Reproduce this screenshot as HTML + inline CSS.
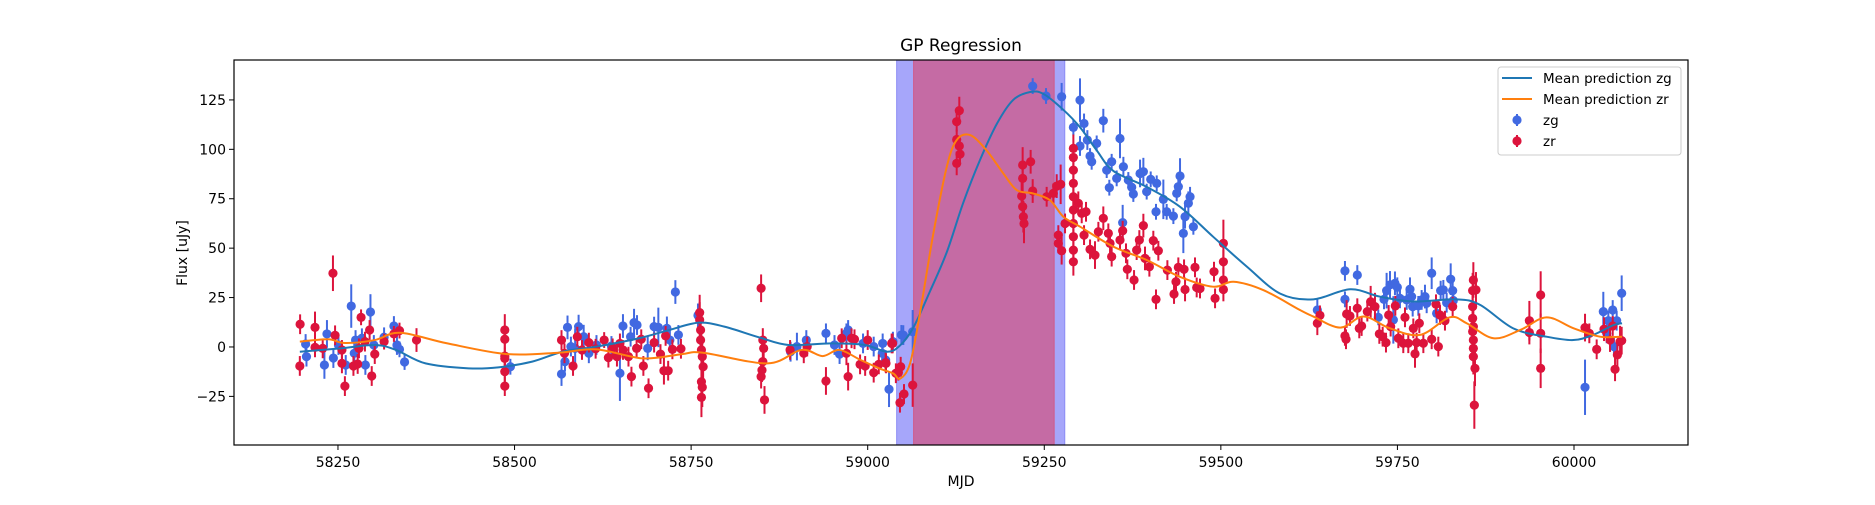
<!DOCTYPE html>
<html><head><meta charset="utf-8"><style>
body{margin:0;background:#fff;}
svg text{font-family:"DejaVu Sans","Liberation Sans",sans-serif;fill:#000;}
</style></head><body>
<svg id="chart" width="1875" height="500" viewBox="0 0 1875 500" xmlns="http://www.w3.org/2000/svg">
<rect x="0" y="0" width="1875" height="500" fill="#fff"/>
<g id="spans"></g><g id="points"></g><g id="curves"></g><g id="axes"></g><g id="legend"></g>
</svg>
<script>
const zgCurveMjd=[58196,58254,58302,58332,58374,58435,58477,58525,58568,58616,58676,58719,58761,58797,58846,58888,58948,58996,59027,59045,59064,59088,59112,59135,59159,59183,59206,59230,59249,59277,59301,59324,59348,59395,59442,59489,59537,59584,59631,59683,59725,59772,59834,59867,59914,59961,59999,60027,60056,60068];
const zgCurveFlux=[-2.4,-0.7,1,-1.5,-8.3,-10.8,-10.3,-7.4,-2.4,0.2,4.4,8.6,12.3,10.3,4.9,1,1.8,1,-2.4,0.5,9.4,28,48,72.7,94.6,113,125,129,128,120,111,99.6,89,81,71,55.8,40.6,27,24.1,29.2,25.5,23,24.1,21.3,9.4,5.2,3.5,6.1,11.1,12];
const zrCurveMjd=[58196,58236,58260,58302,58338,58405,58489,58562,58616,58682,58737,58767,58858,58906,58936,58960,58990,59017,59036,59046,59060,59074,59093,59112,59126,59145,59168,59192,59211,59234,59258,59277,59301,59348,59395,59442,59489,59518,59560,59612,59631,59669,59702,59739,59782,59824,59848,59886,59924,59961,59999,60037,60068];
const zrCurveFlux=[2.7,3.9,2,3.5,7.2,1.8,-3.6,-2.9,-1.2,-5.8,-3.6,-2.9,-8.3,-1.5,-4.6,-1.5,-6.6,-10.9,-13.4,-16,-8.3,17,57.5,91.2,104.7,107.2,99.6,87.8,79.4,77.7,74.3,65.9,60.8,50.7,44,35.5,30.5,33,28.8,18.7,15.4,9.8,15.4,9.5,6.1,15,12,4.4,8.6,15,9.5,5.2,5.2];
const zgPoints=[[58204.2,1.5,5],[58205.4,-4.9,5],[58230.8,-9.1,7],[58234.4,6.6,7],[58243.5,-5.6,5],[58250.7,1,5],[58261,-9.1,5],[58268.8,20.7,11],[58273.1,-3.2,6],[58274.9,3.5,5],[58283.9,4.4,5],[58288.8,-9.1,5],[58296,17.7,9],[58300.8,1,5],[58315.3,4.9,5],[58329.2,10.6,5],[58333.5,1,5],[58337.1,-1.2,4],[58344.3,-7.6,4],[58494.1,-10,4],[58566.5,-13.7,6],[58571.4,-7.4,5],[58575,9.9,6],[58579.8,0.2,5],[58585.8,-0.7,10],[58590.7,10.3,6],[58597.9,5.2,6],[58605.2,-3.2,5],[58616,1,5],[58637.2,0.5,5],[58649.2,-13.3,14],[58653.5,10.6,6],[58664.3,5.2,5],[58669.2,12.3,7],[58673.4,11.1,5],[58688.5,-0.7,6],[58697.6,10.3,5],[58703.6,9.9,10],[58715.7,9.4,6],[58719.9,3.5,5],[58727.7,27.8,6],[58732,6.1,5],[58759.7,16,6],[58890.8,-2.4,5],[58899.8,0.2,7],[58913.1,3.5,5],[58940.9,6.9,5],[58953,1,5],[58960.2,-3.6,5],[58969.9,6.9,5],[58972.3,8.6,5],[58993.4,1.8,5],[59008.5,0.2,5],[59020.6,-3.2,5],[59025.4,-6.6,5],[59030.2,-21.4,9],[59035.7,2.7,5],[59047.7,6.1,5],[59021.2,1.8,5],[59050.4,6,5],[59063.7,7.7,11],[59233.6,132,4],[59252.5,127,4],[59274.6,126.6,7],[59300.6,124.9,11],[59291.2,111.1,4],[59306.3,113.1,5],[59311,104.7,5],[59300.6,101.7,5],[59324.2,103,4],[59333.6,114.5,6],[59357.2,105.5,10],[59314.8,96.6,4],[59317.1,93.7,4],[59338.4,89.5,4],[59342.1,80.6,4],[59345.4,93.7,4],[59352.5,85.3,4],[59362,91.2,5],[59369,84.5,4],[59373.8,80.8,4],[59376.1,77.4,4],[59385.6,87.8,7],[59390.3,88.7,7],[59395,78.6,4],[59400.7,84.8,4],[59409.2,82.8,4],[59408.2,68.4,4],[59418.6,74.7,10],[59423.3,68.4,4],[59432.8,66.2,4],[59437.5,77.7,4],[59442.2,86.5,9],[59439.8,81.1,4],[59446.9,57.5,10],[59449.3,65.9,6],[59454,72.7,6],[59456.4,76,5],[59461.1,60.8,4],[59361,62.9,9],[59636.6,18.7,6],[59675.7,38.5,5],[59675.7,24.1,4],[59693.2,36.4,5],[59722.9,15,4],[59731,24.1,5],[59734.7,28.5,9],[59739.5,31.4,7],[59746.5,32.2,6],[59749.8,30.2,5],[59753.6,24.6,5],[59763.1,23.8,5],[59767.8,29.2,6],[59770.1,25.5,5],[59771.6,20.4,5],[59779.6,20.8,5],[59784.3,23.8,5],[59789,25.5,6],[59791.4,22.1,5],[59798.5,37.3,8],[59805.5,17,5],[59811.2,28.5,5],[59815,28.9,5],[59819.7,22.4,5],[59825.4,34.3,8],[59828.2,28.5,5],[59829.1,23.5,5],[59744.2,13.7,12],[60015.6,-20.4,14],[60041.5,17.9,10],[60054.8,18.7,5],[60048.6,13.3,5],[60060.4,13.3,5],[60067.5,27.2,9],[60056.6,0.2,5],[60046.3,6.9,5]];
const zrPoints=[[58196.4,11.5,5],[58196,-9.6,5],[58217.5,9.9,8],[58217.5,-0.2,5],[58228.4,-0.7,5],[58242.9,37.3,9],[58245.9,5.9,5],[58255.6,-1.5,5],[58255.6,-8.3,5],[58259.8,-19.8,5],[58271.9,-9.6,5],[58277.9,-8.6,5],[58279.7,-0.7,5],[58282.7,15,4],[58288.2,2.7,5],[58294.8,8.6,5],[58297.8,-14.7,5],[58302.1,-3.6,5],[58315.3,2.7,4],[58329.2,6.6,4],[58337.1,8.3,4],[58361.2,3.5,6],[58486.2,8.6,8],[58486.2,3.9,5],[58486.2,-4.6,5],[58486.2,-5.8,5],[58486.2,-12.5,5],[58486.2,-19.8,5],[58566.5,3.5,5],[58570.7,-3.2,5],[58582.8,-9.6,5],[58588.9,5.2,5],[58595.5,-1.5,5],[58605.2,2.2,5],[58614.8,-0.9,5],[58626.9,3.5,4],[58632.9,-5.4,5],[58638.9,-0.7,5],[58645,-4.9,5],[58649.2,1.8,5],[58653.5,-1.5,5],[58661.3,-4.9,5],[58665.5,-15,5],[58672.8,-0.7,5],[58679.4,3.9,5],[58682.4,-9.6,5],[58689.7,-20.9,5],[58697.6,2.2,5],[58706.6,-3.6,5],[58711.5,-12,7],[58713.9,5.6,5],[58717.5,-12,5],[58723.5,-1.2,5],[58735.6,-0.9,5],[58762.1,17.4,9],[58762.1,13.7,9],[58763.4,8.6,10],[58763.4,3.5,9],[58764.6,-1.5,8],[58765.8,-4.9,9],[58767,-10,10],[58764.6,-17.6,9],[58765.8,-20.4,10],[58764.6,-25.5,10],[58849.1,29.7,7],[58851.5,3.5,6],[58852.7,-0.7,6],[58851.5,-7.4,6],[58850.3,-11.7,6],[58849.1,-15,6],[58853.9,-26.8,7],[58890.1,-1.5,5],[58909.5,-3.2,5],[58914.3,0.2,5],[58940.9,-17.2,7],[58963.2,4.4,5],[58969.9,-3.2,6],[58972.3,-15,7],[58977.1,4.4,5],[58981.3,3.9,5],[58989.2,-8.8,5],[58996.4,-9.6,5],[59000,3.5,5],[59008.5,-13,5],[59015.7,-8.8,5],[59025.4,-7.9,5],[59033.9,1.8,5],[59039.9,-13.3,5],[59025.9,-8.3,5],[59035.3,1.8,5],[59043.4,-13,4],[59046.7,-10,5],[59045.7,-28.2,5],[59051.4,-23.8,5],[59063.7,-19.3,11],[59126,114,5],[59129.7,119.6,7],[59126,105,5],[59129.7,101.7,5],[59130.7,97.6,5],[59126,92.9,6],[59219.4,92.1,9],[59219.4,85.3,7],[59218,76.4,7],[59219.4,71,7],[59220.4,65.9,8],[59221.3,62.5,10],[59230.7,93.7,6],[59233.6,78.9,6],[59253.4,76,5],[59262.8,77.7,5],[59267.6,81.4,6],[59273.2,82.3,10],[59269.9,56.6,5],[59269.9,52.4,5],[59274.6,48.7,7],[59279.4,62.5,5],[59291.2,100.5,7],[59291.2,95.9,7],[59291.2,89.5,7],[59291.2,82.8,7],[59291.2,76,7],[59291.2,69.3,7],[59291.2,62.5,7],[59291.2,55.8,7],[59291.2,49,7],[59291.2,43.1,7],[59298.2,72.7,6],[59303,67.6,5],[59309.1,68.4,5],[59306.3,56.6,5],[59314.8,49.4,5],[59321.8,46.5,7],[59326.6,58.3,5],[59333.6,65.1,6],[59340.7,57.5,5],[59343.1,52.4,5],[59345.4,45.7,5],[59357.2,54.1,5],[59361,58.8,5],[59365.7,47.4,5],[59367.6,39.3,5],[59377.1,33.9,5],[59380.8,49,5],[59384.6,54.1,5],[59390.3,61.4,6],[59392.6,44.8,6],[59398.8,40.6,5],[59404.4,53.8,5],[59408.2,24.1,5],[59411.5,48.7,5],[59424.3,38.9,5],[59433.7,26.8,5],[59436.5,33,5],[59439.8,40.3,5],[59447.9,39.3,5],[59449.3,29.1,6],[59463.4,40.3,5],[59465.8,30.1,5],[59470.5,29.6,5],[59490.3,38.1,5],[59491.8,24.6,5],[59503.6,52.4,12],[59503.6,43.1,6],[59503.6,33.9,6],[59503.6,29.1,6],[59636.6,12,6],[59640.3,16,5],[59675.7,5.6,5],[59677.2,3.9,5],[59678.1,16.7,7],[59682.8,15.7,5],[59693.2,19.6,5],[59696,9.4,5],[59699.3,10.6,5],[59707.4,17.9,5],[59712.1,22.9,8],[59718.2,20.4,7],[59724.4,6.6,5],[59729.1,5.2,5],[59733.8,2.2,5],[59737.6,16.2,5],[59740.4,10.3,5],[59747,20.8,5],[59751.3,4.4,5],[59760.7,15,5],[59758.3,1.9,5],[59765.4,1.9,5],[59772.5,9.4,5],[59774.9,-3.5,7],[59777.2,2.2,5],[59781,12,5],[59786.7,1.9,5],[59798.5,3.9,5],[59804.6,21.6,5],[59807.9,0.2,5],[59810.3,16.2,5],[59817.3,13.3,5],[59828.2,20.4,5],[59857.5,33.9,9],[59861.2,28.9,9],[59856.5,28.5,9],[59856.5,20.4,9],[59856.5,14.5,9],[59857.5,10.3,9],[59856.5,7.8,9],[59857.5,3.5,9],[59857.5,-0.7,9],[59857.5,-4.9,9],[59859.8,-10.8,9],[59858.9,-29.4,12],[59936.8,13.3,10],[59936.8,7.3,6],[59952.8,26.3,12],[59952.8,6.9,10],[59952.8,-10.8,10],[60015.6,9.8,7],[60021.7,6.9,5],[60032.1,-1.2,5],[60042.5,9,6],[60051,3.5,6],[60054.8,10.6,5],[60058.1,-11.3,6],[60061.4,-4,6],[60065.2,2.7,8],[60067.5,3.2,7]];
const xTicks=[58250,58500,58750,59000,59250,59500,59750,60000];
const yTicks=[-25,0,25,50,75,100,125];
const spanBlue=[59041,59279];
const spanRed=[59065,59264];

const NS="http://www.w3.org/2000/svg";
const L=234,R=1688,T=60,B=445;
const xMin=58102.8,xMax=60161.4,yMin=-49.6,yMax=145.2;
function X(v){return L+(v-xMin)/(xMax-xMin)*(R-L);}
function Y(v){return B-(v-yMin)/(yMax-yMin)*(B-T);}
function el(tag,attrs,parent){const e=document.createElementNS(NS,tag);for(const k in attrs)e.setAttribute(k,attrs[k]);parent.appendChild(e);return e;}

const gS=document.getElementById('spans');
const sb=el('rect',{x:X(spanBlue[0]),y:T,width:X(spanBlue[1])-X(spanBlue[0]),height:B-T,fill:'#a6a6fa',stroke:'#8c8cf5','stroke-width':1},gS);


const sr=el('rect',{x:X(spanRed[0]),y:T,width:X(spanRed[1])-X(spanRed[0]),height:B-T,fill:'#c56ba4',stroke:'#d05a8a','stroke-width':1},gS);



const gP=document.getElementById('points');
function drawPts(arr,color,name){
  const g=el('g',{},gP);
  
  
  arr.forEach(p=>{
    el('line',{x1:X(p[0]),x2:X(p[0]),y1:Y(p[1]-p[2]),y2:Y(p[1]+p[2]),stroke:color,'stroke-width':2},g);
    const c=el('circle',{cx:X(p[0]),cy:Y(p[1]),r:4.6,fill:color},g);
    
    
  });
}
drawPts(zgPoints,'#4169e1','zg-points');
drawPts(zrPoints,'#dc143c','zr-points');

const gC=document.getElementById('curves');
function smooth(xs,ys){
  const pts=xs.map((x,i)=>[X(x),Y(ys[i])]);
  let d='M'+pts[0][0]+','+pts[0][1];
  for(let i=0;i<pts.length-1;i++){
    const p0=pts[i-1]||pts[i],p1=pts[i],p2=pts[i+1],p3=pts[i+2]||p2;
    const c1=[p1[0]+(p2[0]-p0[0])/6,p1[1]+(p2[1]-p0[1])/6];
    const c2=[p2[0]-(p3[0]-p1[0])/6,p2[1]-(p3[1]-p1[1])/6];
    d+=' C'+c1[0]+','+c1[1]+' '+c2[0]+','+c2[1]+' '+p2[0]+','+p2[1];
  }
  return d;
}
const cg=el('path',{d:smooth(zgCurveMjd,zgCurveFlux),fill:'none',stroke:'#1f77b4','stroke-width':2},gC);


const cr=el('path',{d:smooth(zrCurveMjd,zrCurveFlux),fill:'none',stroke:'#ff7f0e','stroke-width':2},gC);



const gA=document.getElementById('axes');
const frame=el('rect',{x:L,y:T,width:R-L,height:B-T,fill:'none',stroke:'#000','stroke-width':1.2},gA);


xTicks.forEach(v=>{
  el('line',{x1:X(v),x2:X(v),y1:B,y2:B+5,stroke:'#000','stroke-width':1},gA);
  const t=el('text',{x:X(v),y:B+22,'font-size':'14','text-anchor':'middle'},gA);
  t.textContent=v;
  
  
});
yTicks.forEach(v=>{
  el('line',{x1:L-5,x2:L,y1:Y(v),y2:Y(v),stroke:'#000','stroke-width':1},gA);
  const t=el('text',{x:L-8,y:Y(v)+5,'font-size':'14','text-anchor':'end'},gA);
  t.textContent=v<0?'\u2212'+Math.abs(v):v;
  
  
});
</script>
<script>
const svg=document.getElementById('chart');
function mk(tag,a,txt){const e=document.createElementNS("http://www.w3.org/2000/svg",tag);for(const k in a)e.setAttribute(k,a[k]);if(txt)e.textContent=txt;svg.appendChild(e);return e;}
const title=mk('text',{x:961,y:51,'font-size':'17','text-anchor':'middle'},'GP Regression');


const xl=mk('text',{x:961,y:486,'font-size':'14','text-anchor':'middle'},'MJD');


const yl=mk('text',{x:187,y:253,'font-size':'14','text-anchor':'middle',transform:'rotate(-90 187 253)'},'Flux [uJy]');


const lg=mk('rect',{x:1498,y:67,width:183,height:88,rx:3,fill:'#fff','fill-opacity':0.8,stroke:'#ccc','stroke-width':1});


const rows=[['line','#1f77b4','Mean prediction zg'],['line','#ff7f0e','Mean prediction zr'],['pt','#4169e1','zg'],['pt','#dc143c','zr']];
rows.forEach((r,i)=>{
  const y=78+i*21;
  if(r[0]==='line'){mk('line',{x1:1502,x2:1532,y1:y,y2:y,stroke:r[1],'stroke-width':2});}
  else{mk('line',{x1:1517,x2:1517,y1:y-6,y2:y+6,stroke:r[1],'stroke-width':2});mk('circle',{cx:1517,cy:y,r:4.6,fill:r[1]});}
  const t=mk('text',{x:1543,y:y+5,'font-size':'13.5'},r[2]);
  
  
});
</script>
</body></html>
